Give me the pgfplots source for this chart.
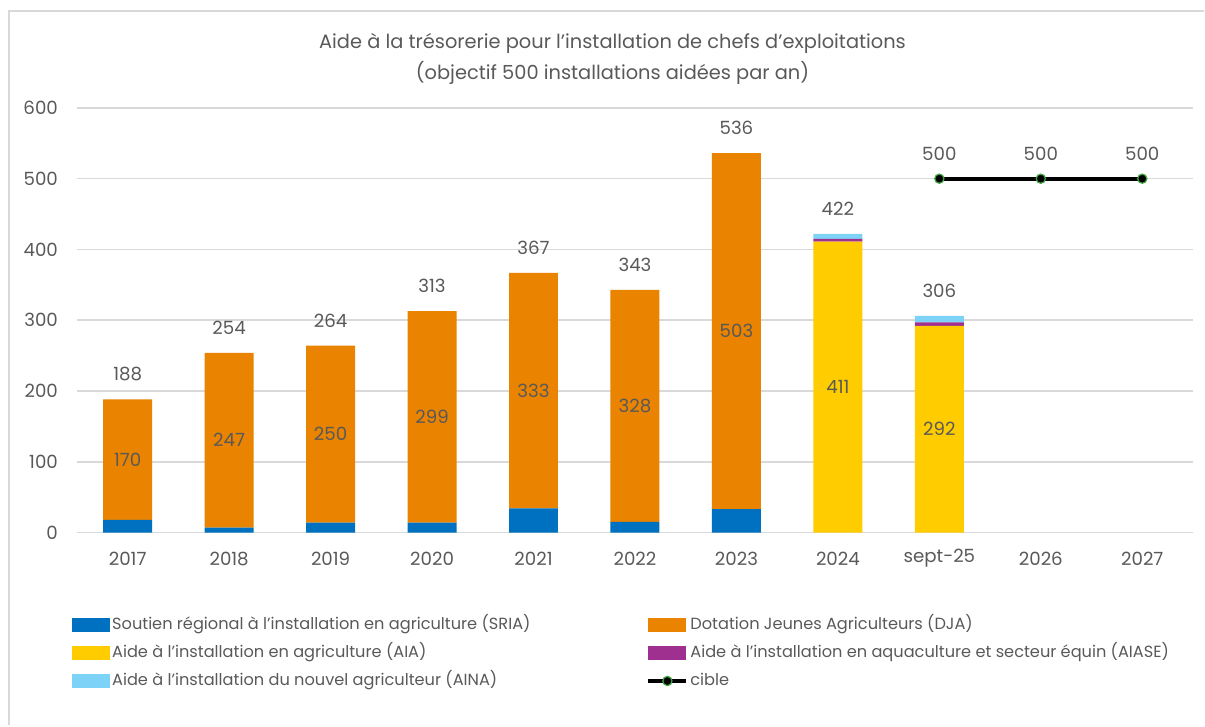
\documentclass[border=0pt]{standalone}
\usepackage{pgfplots}
\pgfplotsset{compat=1.18}
\usepackage{pgfplotstable}
\usepackage{fontspec}
\setmainfont{Poppins}
\definecolor{txtgray}{HTML}{595959}
\definecolor{gridgray}{HTML}{D9D9D9}
\definecolor{sriacol}{HTML}{0070C0}
\definecolor{djacol}{HTML}{E98300}
\definecolor{aiacol}{HTML}{FFCC00}
\definecolor{aiasecol}{HTML}{A0308F}
\definecolor{ainacol}{HTML}{7DD3F7}
\definecolor{cgreen}{HTML}{3FA33F}

\pgfplotstableread{
x sria dja aia aiase aina
0 18 170 0 0 0
1 7 247 0 0 0
2 14 250 0 0 0
3 14 299 0 0 0
4 34 333 0 0 0
5 15 328 0 0 0
6 33 503 0 0 0
7 0 0 411 4 7
8 0 0 292 5 9
}\bars

\pgfplotstableread{
x total
0 188
1 254
2 264
3 313
4 367
5 343
6 536
7 422
8 306
}\totals

\pgfplotstableread{
x y lab
0 103 170
1 130.5 247
2 139 250
3 163.5 299
4 200.5 333
5 179 328
6 284.5 503
7 205.5 411
8 146 292
}\inner

\pgfplotstableread{
x y
8 500
9 500
10 500
}\cible

\pgfplotsset{
  commonax/.style={
    at={(38.5pt,96.5pt)}, anchor=south west,
    scale only axis, width=558.5pt, height=212.5pt,
    xmin=-0.5, xmax=10.5, ymin=0, ymax=600,
    axis line style={draw=none},
    major tick length=0pt,
    /pgf/number format/assume math mode=true,
  }
}

\begin{document}
\begin{tikzpicture}
\path (0,0) rectangle (602.5pt,363pt);
\draw[gridgray, line width=1pt] (4.5pt,0pt) -- (4.5pt,357.5pt) -- (602.5pt,357.5pt);

\node[text=txtgray, font=\fontsize{9.7}{11}\selectfont] at (306.5pt,341.5pt) {Aide à la trésorerie pour l'installation de chefs d'exploitations};
\node[text=txtgray, font=\fontsize{9.7}{11}\selectfont] at (306.5pt,326.5pt) {(objectif 500 installations aidées par an)};

\begin{axis}[commonax,
  ybar stacked, bar width=24.5pt,
  ytick={0,100,...,600},
  xtick={0,...,10},
  xticklabels={2017,2018,2019,2020,2021,2022,2023,2024,sept-25,2026,2027},
  ymajorgrids, grid style={gridgray, line width=0.8pt},
  tick label style={text=txtgray, font=\fontsize{9.1}{10}\selectfont},
  yticklabel style={anchor=east, xshift=-6pt},
  xticklabel style={anchor=center, yshift=-13pt},
  legend image code/.code={\path[#1] (0pt,-3.5pt) rectangle (19pt,3.5pt);},
  legend columns=2,
  legend cell align=left,
  legend style={at={(-0.01,-0.186)}, anchor=north west, draw=none, fill=none,
    font=\fontsize{8.1}{9}\selectfont, text=txtgray,
    nodes={inner sep=1pt, text height=6pt, text depth=1.5pt},
    row sep=4.4pt,
    /tikz/every even column/.append style={column sep=57pt}},
]
\addplot[fill=sriacol, draw=none] table[x=x, y=sria] {\bars};
\addlegendentry{Soutien régional à l'installation en agriculture (SRIA)}
\addplot[fill=djacol, draw=none] table[x=x, y=dja] {\bars};
\addlegendentry{Dotation Jeunes Agriculteurs (DJA)}
\addplot[fill=aiacol, draw=none] table[x=x, y=aia] {\bars};
\addlegendentry{Aide à l'installation en agriculture (AIA)}
\addplot[fill=aiasecol, draw=none] table[x=x, y=aiase] {\bars};
\addlegendentry{Aide à l'installation en aquaculture et secteur équin (AIASE)}
\addplot[fill=ainacol, draw=none] table[x=x, y=aina] {\bars};
\addlegendentry{Aide à l'installation du nouvel agriculteur (AINA)}
\addlegendimage{legend image code/.code={\draw[black, line width=2pt] (0pt,0pt) -- (19pt,0pt); \filldraw[fill=black, draw=cgreen, line width=0.6pt] (9.5pt,0pt) circle (2.3pt);}}
\addlegendentry{cible}
\end{axis}

\begin{axis}[commonax, hide axis]
\addplot[only marks, mark=none, nodes near coords, point meta=explicit symbolic,
  nodes near coords style={anchor=center, text=txtgray, font=\fontsize{9.1}{10}\selectfont, inner sep=0pt}]
  table[x=x, y=y, meta=lab] {\inner};
\addplot[only marks, mark=none, nodes near coords, point meta=explicit symbolic,
  nodes near coords style={anchor=south, text=txtgray, font=\fontsize{9.1}{10}\selectfont, inner sep=0pt, yshift=9pt}]
  table[x=x, y=total, meta=total] {\totals};
\addplot[black, line width=2pt, mark=*, mark size=2.3pt,
  mark options={fill=black, draw=cgreen, line width=0.6pt},
  nodes near coords, point meta=explicit symbolic,
  nodes near coords style={anchor=south, text=txtgray, font=\fontsize{9.1}{10}\selectfont, inner sep=0pt, yshift=9pt}]
  table[x=x, y=y, meta=y] {\cible};
\end{axis}
\end{tikzpicture}
\end{document}
